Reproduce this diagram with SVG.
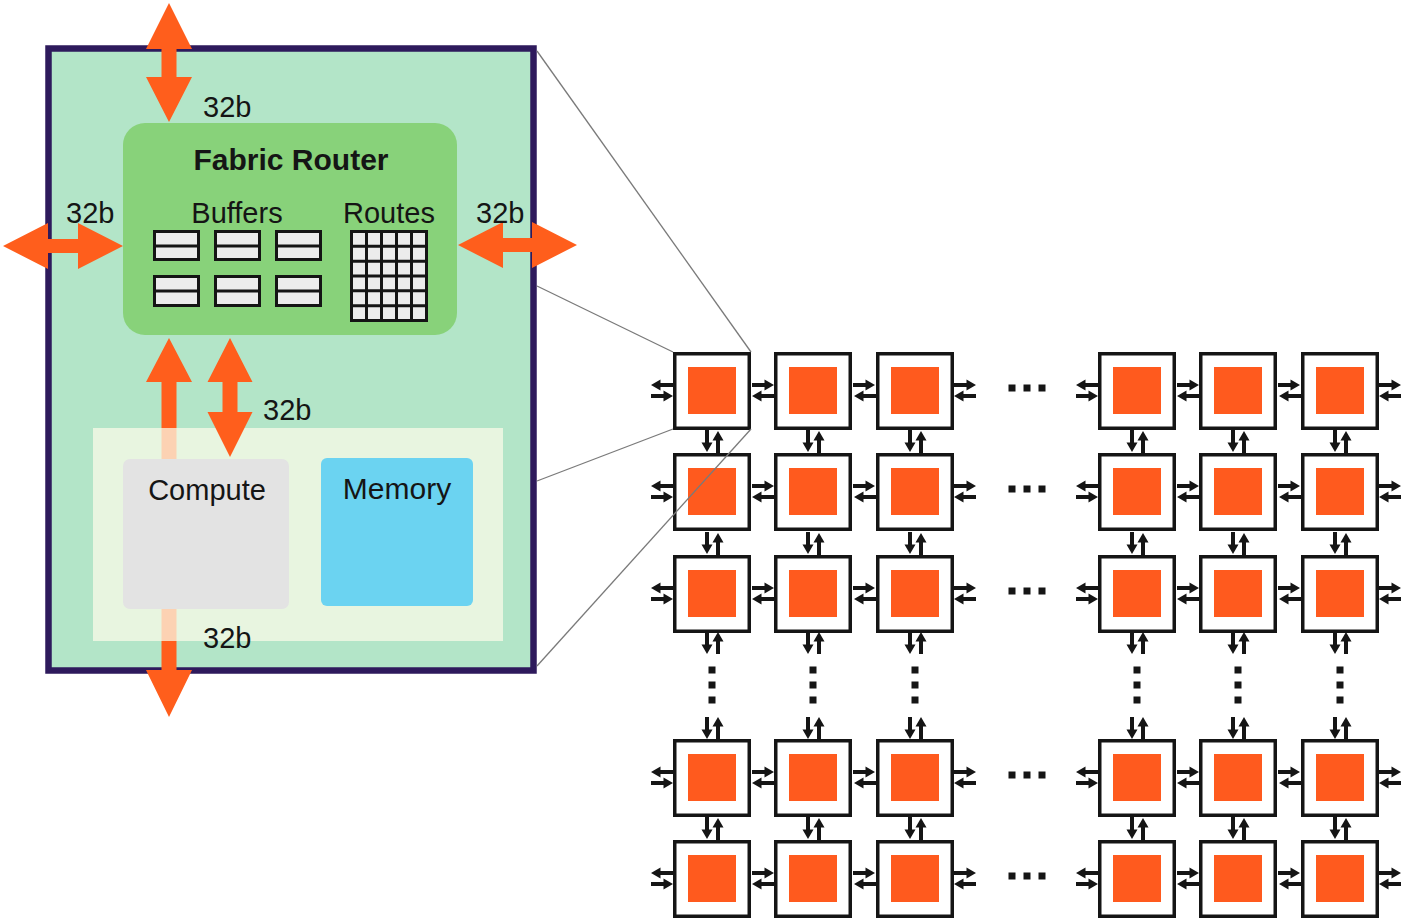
<svg xmlns="http://www.w3.org/2000/svg" xmlns:xlink="http://www.w3.org/1999/xlink" width="1405" height="921" viewBox="0 0 1405 921">
<style>
.lbl{font-family:"Liberation Sans",Arial,sans-serif;font-size:29px;fill:#151515}
.title{font-family:"Liberation Sans",Arial,sans-serif;font-size:30px;font-weight:bold;fill:#151515}
.big{fill:#ff5e1c}
.buf{fill:#ececec;stroke:#151515;stroke-width:3}
.tile{fill:#ffffff;stroke:#151515;stroke-width:3.5}
.core{fill:#ff5a1e}
.sa{fill:#151515}
.dot{fill:#151515}
.zoom{stroke:#7a7a7a;stroke-width:1.3;fill:none}
</style>
<defs>
<path id="ar" d="M0,-2 H12.5 V-5.5 L22,0 L12.5,5.5 V2 H0 Z"/>
</defs>
<rect width="1405" height="921" fill="#ffffff"/>

<!-- Chip / PE detail -->
<g id="pe">
<rect x="48.5" y="48.5" width="485" height="622" fill="#b3e5c8" stroke="#2e1a5c" stroke-width="6.5"/>
</g>

<g id="orange-arrows-back">
<path class="big" d="M169,338 L192,382 L176.5,382 L176.5,670 L192,670 L169,717 L146,670 L161.5,670 L161.5,382 L146,382 Z"/>
</g>

<g id="core-panel">
<rect x="93" y="428" width="410" height="213" fill="#fbfbe8" fill-opacity="0.74"/>
</g>

<g id="router">
<rect x="123" y="123" width="334" height="212" rx="22" fill="#88d27a"/>
<text class="title" x="291" y="170" text-anchor="middle">Fabric Router</text>
<text class="lbl" x="237" y="223" text-anchor="middle">Buffers</text>
<text class="lbl" x="389" y="223" text-anchor="middle">Routes</text>
<g id="buffers">
<rect class="buf" x="154.5" y="231.5" width="44" height="28"/><line x1="154" y1="246" x2="199" y2="246" stroke="#151515" stroke-width="3"/>
<rect class="buf" x="215.5" y="231.5" width="44" height="28"/><line x1="215" y1="246" x2="260" y2="246" stroke="#151515" stroke-width="3"/>
<rect class="buf" x="276.5" y="231.5" width="44" height="28"/><line x1="276" y1="246" x2="321" y2="246" stroke="#151515" stroke-width="3"/>
<rect class="buf" x="154.5" y="276.5" width="44" height="29"/><line x1="154" y1="291" x2="199" y2="291" stroke="#151515" stroke-width="3"/>
<rect class="buf" x="215.5" y="276.5" width="44" height="29"/><line x1="215" y1="291" x2="260" y2="291" stroke="#151515" stroke-width="3"/>
<rect class="buf" x="276.5" y="276.5" width="44" height="29"/><line x1="276" y1="291" x2="321" y2="291" stroke="#151515" stroke-width="3"/>
</g>
<g id="routes" stroke="#151515" stroke-width="3">
<rect x="351.5" y="231.5" width="75" height="89" fill="#ececec"/>
<path d="M366.5,231 V321 M381.5,231 V321 M396.5,231 V321 M411.5,231 V321 M351,246.3 H427 M351,261.2 H427 M351,276 H427 M351,290.8 H427 M351,305.7 H427" fill="none"/>
</g>
</g>

<g id="compute">
<rect x="123" y="459" width="166" height="150" rx="7" fill="#e3e3e3"/>
<text class="lbl" x="207" y="500" text-anchor="middle">Compute</text>
</g>
<g id="memory">
<rect x="321" y="458" width="152" height="148" rx="6" fill="#6bd3f1"/>
<text class="lbl" x="397" y="499" text-anchor="middle" style="font-size:30px">Memory</text>
</g>

<g id="orange-arrows">
<path class="big" d="M169,3 L192,49 L176.5,49 L176.5,77 L192,77 L169,122 L146,77 L161.5,77 L161.5,49 L146,49 Z"/>
<path class="big" d="M3,246 L48,223 L48,239 L78,239 L78,223 L123,246 L78,269 L78,253 L48,253 L48,269 Z"/>
<path class="big" d="M458,245 L503,222 L503,238 L532,238 L532,222 L577,245 L532,268 L532,252 L503,252 L503,268 Z"/>
<path class="big" d="M230,338 L252.5,382 L237.5,382 L237.5,412 L252.5,412 L230,457 L207.5,412 L222.5,412 L222.5,382 L207.5,382 Z"/>
</g>

<g id="width-labels">
<text class="lbl" x="203" y="117">32b</text>
<text class="lbl" x="66" y="223">32b</text>
<text class="lbl" x="476" y="223">32b</text>
<text class="lbl" x="263" y="420">32b</text>
<text class="lbl" x="203" y="648">32b</text>
</g>

<g id="tiles">
<g id="tile-r1c1"><rect class="tile" x="674.75" y="353.75" width="74.5" height="74.5"/><rect class="core" x="688" y="367" width="48" height="47"/></g>
<g id="tile-r1c2"><rect class="tile" x="775.75" y="353.75" width="74.5" height="74.5"/><rect class="core" x="789" y="367" width="48" height="47"/></g>
<g id="tile-r1c3"><rect class="tile" x="877.75" y="353.75" width="74.5" height="74.5"/><rect class="core" x="891" y="367" width="48" height="47"/></g>
<g id="tile-r1c4"><rect class="tile" x="1099.75" y="353.75" width="74.5" height="74.5"/><rect class="core" x="1113" y="367" width="48" height="47"/></g>
<g id="tile-r1c5"><rect class="tile" x="1200.75" y="353.75" width="74.5" height="74.5"/><rect class="core" x="1214" y="367" width="48" height="47"/></g>
<g id="tile-r1c6"><rect class="tile" x="1302.75" y="353.75" width="74.5" height="74.5"/><rect class="core" x="1316" y="367" width="48" height="47"/></g>

<g id="tile-r2c1"><rect class="tile" x="674.75" y="454.75" width="74.5" height="74.5"/><rect class="core" x="688" y="468" width="48" height="47"/></g>
<g id="tile-r2c2"><rect class="tile" x="775.75" y="454.75" width="74.5" height="74.5"/><rect class="core" x="789" y="468" width="48" height="47"/></g>
<g id="tile-r2c3"><rect class="tile" x="877.75" y="454.75" width="74.5" height="74.5"/><rect class="core" x="891" y="468" width="48" height="47"/></g>
<g id="tile-r2c4"><rect class="tile" x="1099.75" y="454.75" width="74.5" height="74.5"/><rect class="core" x="1113" y="468" width="48" height="47"/></g>
<g id="tile-r2c5"><rect class="tile" x="1200.75" y="454.75" width="74.5" height="74.5"/><rect class="core" x="1214" y="468" width="48" height="47"/></g>
<g id="tile-r2c6"><rect class="tile" x="1302.75" y="454.75" width="74.5" height="74.5"/><rect class="core" x="1316" y="468" width="48" height="47"/></g>

<g id="tile-r3c1"><rect class="tile" x="674.75" y="556.75" width="74.5" height="74.5"/><rect class="core" x="688" y="570" width="48" height="47"/></g>
<g id="tile-r3c2"><rect class="tile" x="775.75" y="556.75" width="74.5" height="74.5"/><rect class="core" x="789" y="570" width="48" height="47"/></g>
<g id="tile-r3c3"><rect class="tile" x="877.75" y="556.75" width="74.5" height="74.5"/><rect class="core" x="891" y="570" width="48" height="47"/></g>
<g id="tile-r3c4"><rect class="tile" x="1099.75" y="556.75" width="74.5" height="74.5"/><rect class="core" x="1113" y="570" width="48" height="47"/></g>
<g id="tile-r3c5"><rect class="tile" x="1200.75" y="556.75" width="74.5" height="74.5"/><rect class="core" x="1214" y="570" width="48" height="47"/></g>
<g id="tile-r3c6"><rect class="tile" x="1302.75" y="556.75" width="74.5" height="74.5"/><rect class="core" x="1316" y="570" width="48" height="47"/></g>

<g id="tile-r4c1"><rect class="tile" x="674.75" y="740.75" width="74.5" height="74.5"/><rect class="core" x="688" y="754" width="48" height="47"/></g>
<g id="tile-r4c2"><rect class="tile" x="775.75" y="740.75" width="74.5" height="74.5"/><rect class="core" x="789" y="754" width="48" height="47"/></g>
<g id="tile-r4c3"><rect class="tile" x="877.75" y="740.75" width="74.5" height="74.5"/><rect class="core" x="891" y="754" width="48" height="47"/></g>
<g id="tile-r4c4"><rect class="tile" x="1099.75" y="740.75" width="74.5" height="74.5"/><rect class="core" x="1113" y="754" width="48" height="47"/></g>
<g id="tile-r4c5"><rect class="tile" x="1200.75" y="740.75" width="74.5" height="74.5"/><rect class="core" x="1214" y="754" width="48" height="47"/></g>
<g id="tile-r4c6"><rect class="tile" x="1302.75" y="740.75" width="74.5" height="74.5"/><rect class="core" x="1316" y="754" width="48" height="47"/></g>

<g id="tile-r5c1"><rect class="tile" x="674.75" y="841.75" width="74.5" height="74.5"/><rect class="core" x="688" y="855" width="48" height="47"/></g>
<g id="tile-r5c2"><rect class="tile" x="775.75" y="841.75" width="74.5" height="74.5"/><rect class="core" x="789" y="855" width="48" height="47"/></g>
<g id="tile-r5c3"><rect class="tile" x="877.75" y="841.75" width="74.5" height="74.5"/><rect class="core" x="891" y="855" width="48" height="47"/></g>
<g id="tile-r5c4"><rect class="tile" x="1099.75" y="841.75" width="74.5" height="74.5"/><rect class="core" x="1113" y="855" width="48" height="47"/></g>
<g id="tile-r5c5"><rect class="tile" x="1200.75" y="841.75" width="74.5" height="74.5"/><rect class="core" x="1214" y="855" width="48" height="47"/></g>
<g id="tile-r5c6"><rect class="tile" x="1302.75" y="841.75" width="74.5" height="74.5"/><rect class="core" x="1316" y="855" width="48" height="47"/></g>
</g>

<g id="connectors" class="sa">
<g id="h-row1">
<use href="#ar" transform="translate(673,385) rotate(180)"/><use href="#ar" transform="translate(651,396)"/>
<use href="#ar" transform="translate(752,385)"/><use href="#ar" transform="translate(774,396) rotate(180)"/>
<use href="#ar" transform="translate(853,385)"/><use href="#ar" transform="translate(876,396) rotate(180)"/>
<use href="#ar" transform="translate(954,385)"/><use href="#ar" transform="translate(976,396) rotate(180)"/>
<use href="#ar" transform="translate(1098,385) rotate(180)"/><use href="#ar" transform="translate(1076,396)"/>
<use href="#ar" transform="translate(1177,385)"/><use href="#ar" transform="translate(1199,396) rotate(180)"/>
<use href="#ar" transform="translate(1278,385)"/><use href="#ar" transform="translate(1301,396) rotate(180)"/>
<use href="#ar" transform="translate(1379,385)"/><use href="#ar" transform="translate(1401,396) rotate(180)"/>
</g>
<g id="h-row2">
<use href="#ar" transform="translate(673,486) rotate(180)"/><use href="#ar" transform="translate(651,497)"/>
<use href="#ar" transform="translate(752,486)"/><use href="#ar" transform="translate(774,497) rotate(180)"/>
<use href="#ar" transform="translate(853,486)"/><use href="#ar" transform="translate(876,497) rotate(180)"/>
<use href="#ar" transform="translate(954,486)"/><use href="#ar" transform="translate(976,497) rotate(180)"/>
<use href="#ar" transform="translate(1098,486) rotate(180)"/><use href="#ar" transform="translate(1076,497)"/>
<use href="#ar" transform="translate(1177,486)"/><use href="#ar" transform="translate(1199,497) rotate(180)"/>
<use href="#ar" transform="translate(1278,486)"/><use href="#ar" transform="translate(1301,497) rotate(180)"/>
<use href="#ar" transform="translate(1379,486)"/><use href="#ar" transform="translate(1401,497) rotate(180)"/>
</g>
<g id="h-row3">
<use href="#ar" transform="translate(673,588) rotate(180)"/><use href="#ar" transform="translate(651,599)"/>
<use href="#ar" transform="translate(752,588)"/><use href="#ar" transform="translate(774,599) rotate(180)"/>
<use href="#ar" transform="translate(853,588)"/><use href="#ar" transform="translate(876,599) rotate(180)"/>
<use href="#ar" transform="translate(954,588)"/><use href="#ar" transform="translate(976,599) rotate(180)"/>
<use href="#ar" transform="translate(1098,588) rotate(180)"/><use href="#ar" transform="translate(1076,599)"/>
<use href="#ar" transform="translate(1177,588)"/><use href="#ar" transform="translate(1199,599) rotate(180)"/>
<use href="#ar" transform="translate(1278,588)"/><use href="#ar" transform="translate(1301,599) rotate(180)"/>
<use href="#ar" transform="translate(1379,588)"/><use href="#ar" transform="translate(1401,599) rotate(180)"/>
</g>
<g id="h-row4">
<use href="#ar" transform="translate(673,772) rotate(180)"/><use href="#ar" transform="translate(651,783)"/>
<use href="#ar" transform="translate(752,772)"/><use href="#ar" transform="translate(774,783) rotate(180)"/>
<use href="#ar" transform="translate(853,772)"/><use href="#ar" transform="translate(876,783) rotate(180)"/>
<use href="#ar" transform="translate(954,772)"/><use href="#ar" transform="translate(976,783) rotate(180)"/>
<use href="#ar" transform="translate(1098,772) rotate(180)"/><use href="#ar" transform="translate(1076,783)"/>
<use href="#ar" transform="translate(1177,772)"/><use href="#ar" transform="translate(1199,783) rotate(180)"/>
<use href="#ar" transform="translate(1278,772)"/><use href="#ar" transform="translate(1301,783) rotate(180)"/>
<use href="#ar" transform="translate(1379,772)"/><use href="#ar" transform="translate(1401,783) rotate(180)"/>
</g>
<g id="h-row5">
<use href="#ar" transform="translate(673,873) rotate(180)"/><use href="#ar" transform="translate(651,884)"/>
<use href="#ar" transform="translate(752,873)"/><use href="#ar" transform="translate(774,884) rotate(180)"/>
<use href="#ar" transform="translate(853,873)"/><use href="#ar" transform="translate(876,884) rotate(180)"/>
<use href="#ar" transform="translate(954,873)"/><use href="#ar" transform="translate(976,884) rotate(180)"/>
<use href="#ar" transform="translate(1098,873) rotate(180)"/><use href="#ar" transform="translate(1076,884)"/>
<use href="#ar" transform="translate(1177,873)"/><use href="#ar" transform="translate(1199,884) rotate(180)"/>
<use href="#ar" transform="translate(1278,873)"/><use href="#ar" transform="translate(1301,884) rotate(180)"/>
<use href="#ar" transform="translate(1379,873)"/><use href="#ar" transform="translate(1401,884) rotate(180)"/>
</g>

<g id="v-col1">
<use href="#ar" transform="translate(707,430) rotate(90)"/><use href="#ar" transform="translate(718,453) rotate(-90)"/>
<use href="#ar" transform="translate(707,532) rotate(90)"/><use href="#ar" transform="translate(718,555) rotate(-90)"/>
<use href="#ar" transform="translate(707,632) rotate(90)"/><use href="#ar" transform="translate(718,654) rotate(-90)"/>
<use href="#ar" transform="translate(707,717) rotate(90)"/><use href="#ar" transform="translate(718,739) rotate(-90)"/>
<use href="#ar" transform="translate(707,817) rotate(90)"/><use href="#ar" transform="translate(718,840) rotate(-90)"/>
</g>
<g id="v-col2">
<use href="#ar" transform="translate(808,430) rotate(90)"/><use href="#ar" transform="translate(819,453) rotate(-90)"/>
<use href="#ar" transform="translate(808,532) rotate(90)"/><use href="#ar" transform="translate(819,555) rotate(-90)"/>
<use href="#ar" transform="translate(808,632) rotate(90)"/><use href="#ar" transform="translate(819,654) rotate(-90)"/>
<use href="#ar" transform="translate(808,717) rotate(90)"/><use href="#ar" transform="translate(819,739) rotate(-90)"/>
<use href="#ar" transform="translate(808,817) rotate(90)"/><use href="#ar" transform="translate(819,840) rotate(-90)"/>
</g>
<g id="v-col3">
<use href="#ar" transform="translate(910,430) rotate(90)"/><use href="#ar" transform="translate(921,453) rotate(-90)"/>
<use href="#ar" transform="translate(910,532) rotate(90)"/><use href="#ar" transform="translate(921,555) rotate(-90)"/>
<use href="#ar" transform="translate(910,632) rotate(90)"/><use href="#ar" transform="translate(921,654) rotate(-90)"/>
<use href="#ar" transform="translate(910,717) rotate(90)"/><use href="#ar" transform="translate(921,739) rotate(-90)"/>
<use href="#ar" transform="translate(910,817) rotate(90)"/><use href="#ar" transform="translate(921,840) rotate(-90)"/>
</g>
<g id="v-col4">
<use href="#ar" transform="translate(1132,430) rotate(90)"/><use href="#ar" transform="translate(1143,453) rotate(-90)"/>
<use href="#ar" transform="translate(1132,532) rotate(90)"/><use href="#ar" transform="translate(1143,555) rotate(-90)"/>
<use href="#ar" transform="translate(1132,632) rotate(90)"/><use href="#ar" transform="translate(1143,654) rotate(-90)"/>
<use href="#ar" transform="translate(1132,717) rotate(90)"/><use href="#ar" transform="translate(1143,739) rotate(-90)"/>
<use href="#ar" transform="translate(1132,817) rotate(90)"/><use href="#ar" transform="translate(1143,840) rotate(-90)"/>
</g>
<g id="v-col5">
<use href="#ar" transform="translate(1233,430) rotate(90)"/><use href="#ar" transform="translate(1244,453) rotate(-90)"/>
<use href="#ar" transform="translate(1233,532) rotate(90)"/><use href="#ar" transform="translate(1244,555) rotate(-90)"/>
<use href="#ar" transform="translate(1233,632) rotate(90)"/><use href="#ar" transform="translate(1244,654) rotate(-90)"/>
<use href="#ar" transform="translate(1233,717) rotate(90)"/><use href="#ar" transform="translate(1244,739) rotate(-90)"/>
<use href="#ar" transform="translate(1233,817) rotate(90)"/><use href="#ar" transform="translate(1244,840) rotate(-90)"/>
</g>
<g id="v-col6">
<use href="#ar" transform="translate(1335,430) rotate(90)"/><use href="#ar" transform="translate(1346,453) rotate(-90)"/>
<use href="#ar" transform="translate(1335,532) rotate(90)"/><use href="#ar" transform="translate(1346,555) rotate(-90)"/>
<use href="#ar" transform="translate(1335,632) rotate(90)"/><use href="#ar" transform="translate(1346,654) rotate(-90)"/>
<use href="#ar" transform="translate(1335,717) rotate(90)"/><use href="#ar" transform="translate(1346,739) rotate(-90)"/>
<use href="#ar" transform="translate(1335,817) rotate(90)"/><use href="#ar" transform="translate(1346,840) rotate(-90)"/>
</g>
</g>

<g id="ellipses" class="dot">
<rect x="1008.5" y="384.5" width="7" height="7"/><rect x="1023.5" y="384.5" width="7" height="7"/><rect x="1038.5" y="384.5" width="7" height="7"/>
<rect x="1008.5" y="485.5" width="7" height="7"/><rect x="1023.5" y="485.5" width="7" height="7"/><rect x="1038.5" y="485.5" width="7" height="7"/>
<rect x="1008.5" y="587.5" width="7" height="7"/><rect x="1023.5" y="587.5" width="7" height="7"/><rect x="1038.5" y="587.5" width="7" height="7"/>
<rect x="1008.5" y="771.5" width="7" height="7"/><rect x="1023.5" y="771.5" width="7" height="7"/><rect x="1038.5" y="771.5" width="7" height="7"/>
<rect x="1008.5" y="872.5" width="7" height="7"/><rect x="1023.5" y="872.5" width="7" height="7"/><rect x="1038.5" y="872.5" width="7" height="7"/>
<rect x="708.5" y="666.5" width="7" height="7"/><rect x="708.5" y="681.5" width="7" height="7"/><rect x="708.5" y="696.5" width="7" height="7"/>
<rect x="809.5" y="666.5" width="7" height="7"/><rect x="809.5" y="681.5" width="7" height="7"/><rect x="809.5" y="696.5" width="7" height="7"/>
<rect x="911.5" y="666.5" width="7" height="7"/><rect x="911.5" y="681.5" width="7" height="7"/><rect x="911.5" y="696.5" width="7" height="7"/>
<rect x="1133.5" y="666.5" width="7" height="7"/><rect x="1133.5" y="681.5" width="7" height="7"/><rect x="1133.5" y="696.5" width="7" height="7"/>
<rect x="1234.5" y="666.5" width="7" height="7"/><rect x="1234.5" y="681.5" width="7" height="7"/><rect x="1234.5" y="696.5" width="7" height="7"/>
<rect x="1336.5" y="666.5" width="7" height="7"/><rect x="1336.5" y="681.5" width="7" height="7"/><rect x="1336.5" y="696.5" width="7" height="7"/>
</g>

<g id="zoom-lines" class="zoom">
<line x1="537" y1="51" x2="751" y2="352"/>
<line x1="537" y1="286" x2="673" y2="352"/>
<line x1="537" y1="481" x2="673" y2="429"/>
<line x1="537" y1="666" x2="751" y2="429"/>
</g>
</svg>
